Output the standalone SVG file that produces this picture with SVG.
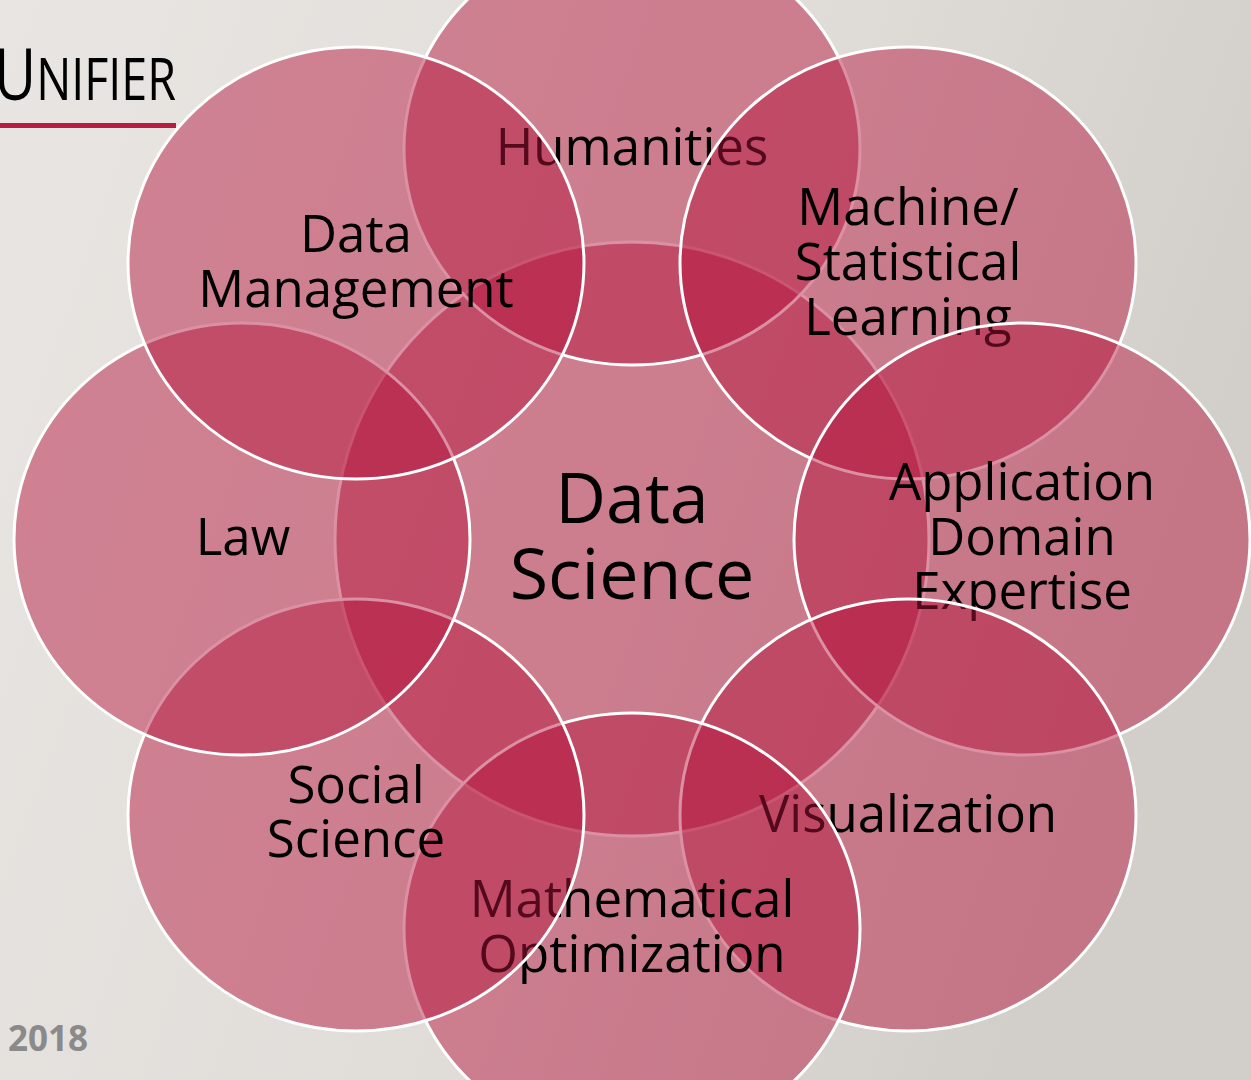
<svg xmlns="http://www.w3.org/2000/svg" width="1251" height="1080" viewBox="0 0 1251 1080">
<style>
.c{fill:#b5143c;fill-opacity:0.47;stroke:#ffffff;stroke-width:3}
.t{font-family:"Open Sans","Noto Sans","DejaVu Sans",sans-serif;font-size:51px;fill:#000000;text-anchor:middle}
.big{font-size:70px}
</style>
<defs>
<linearGradient id="bg" x1="0" y1="0" x2="1" y2="0.3">
<stop offset="0" stop-color="#e8e5e2"/>
<stop offset="0.6" stop-color="#e0ddd9"/>
<stop offset="1" stop-color="#d2cec9"/>
</linearGradient>
</defs>
<rect x="0" y="0" width="1251" height="1080" fill="url(#bg)"/>
<g id="title">
<text x="-6" y="100" font-family="'Open Sans','Noto Sans',sans-serif" fill="#000" textLength="182" lengthAdjust="spacingAndGlyphs"><tspan font-size="72">U</tspan><tspan font-size="58">NIFIER</tspan></text>
<rect x="0" y="123" width="176" height="5" fill="#b91c41"/>
</g>
<g id="year">
<text x="8" y="1051" font-family="'Open Sans','Noto Sans',sans-serif" font-weight="bold" font-size="35" fill="#8a8a8a">2018</text>
</g>
<g id="data-science">
<circle class="c" cx="632" cy="539" r="297"/>
<text class="t big" x="632" y="523">Data</text>
<text class="t big" x="632" y="599">Science</text>
</g>
<g id="humanities">
<ellipse class="c" cx="632" cy="149" rx="228" ry="216"/>
<text class="t" x="632" y="165">Humanities</text>
</g>
<g id="machine-learning">
<ellipse class="c" cx="908" cy="263" rx="228" ry="216"/>
<text class="t" x="908" y="225">Machine/</text>
<text class="t" x="908" y="280">Statistical</text>
<text class="t" x="908" y="335">Learning</text>
</g>
<g id="application-domain">
<ellipse class="c" cx="1022" cy="539" rx="228" ry="216"/>
<text class="t" x="1022" y="500">Application</text>
<text class="t" x="1022" y="555">Domain</text>
<text class="t" x="1022" y="609">Expertise</text>
</g>
<g id="visualization">
<ellipse class="c" cx="908" cy="815" rx="228" ry="216"/>
<text class="t" x="908" y="832">Visualization</text>
</g>
<g id="mathematical-optimization">
<ellipse class="c" cx="632" cy="929" rx="228" ry="216"/>
<text class="t" x="632" y="917">Mathematical</text>
<text class="t" x="632" y="972">Optimization</text>
</g>
<g id="social-science">
<ellipse class="c" cx="356" cy="815" rx="228" ry="216"/>
<text class="t" x="356" y="803">Social</text>
<text class="t" x="356" y="857">Science</text>
</g>
<g id="law">
<ellipse class="c" cx="242" cy="539" rx="228" ry="216"/>
<text class="t" x="243" y="555">Law</text>
</g>
<g id="data-management">
<ellipse class="c" cx="356" cy="263" rx="228" ry="216"/>
<text class="t" x="356" y="252">Data</text>
<text class="t" x="356" y="307">Management</text>
</g>
</svg>
